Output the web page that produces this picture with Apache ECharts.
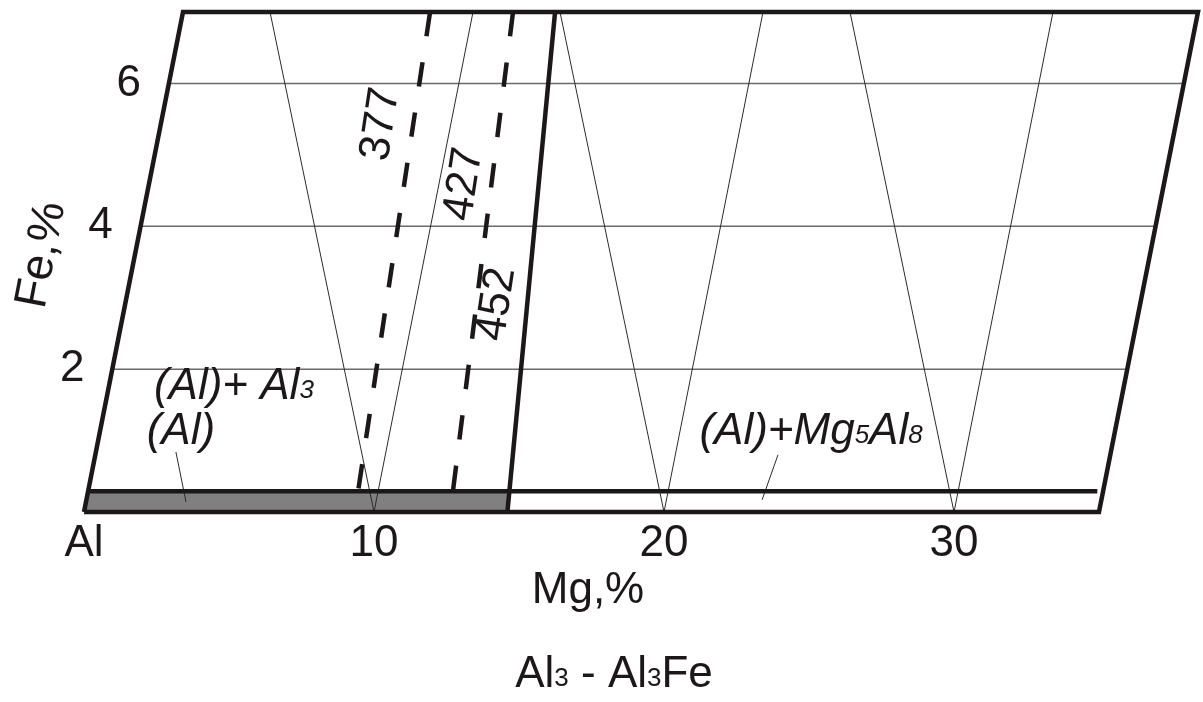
<!DOCTYPE html>
<html>
<head>
<meta charset="utf-8">
<script src="https://cdn.jsdelivr.net/npm/echarts@6/dist/echarts.min.js"></script>
<style>
    body{margin:0;background:#fff;}
    #chart{width:1203px;height:702px;}
</style>
</head>
<body>
<div id="chart"></div>
<script>
    // Mg,% along the bottom, Fe,% up the slanted side
    var mgTicks = [0, 10, 20, 30];
    var feTicks = [2, 4, 6];
    var mgMax = 35, feMax = 7;
    var skew = 0.4877; // frame leans right: Mg shift for 1% Fe

    // (Al) solid solution strip and the (Al)/(Al)+Mg5Al8 boundary
    var solvusFe = 0.29;
    var stripEndMg = 34.8;
    var boundary = [[14.6, 0], [12.83, 7]];

    // isotherms, drawn top to bottom
    var iso377 = [[8.52, 7], [9.31, 0.29]];
    var iso427 = [[11.38, 7], [12.58, 0.29]];
    var isoNames = ['377', '427', '452'];
    var isoMg = [7.59, 10.87, 12.82];
    var isoFe = [5.43, 4.59, 2.91];

    // thin section lines: from (m,0) up to (m-7,7) and to (m,7)
    var fanMg = [10, 20, 30];

    // phase fields
    var phaseText = ['{a|(Al)+ Al}{b|3}', '{a|(Al)}', '{a|(Al)+Mg}{b|5}{a|Al}{b|8}'];
    var phaseMg = [4.31, 2.79, 24.52];
    var phaseFe = [1.76, 1.13, 1.13];
    var pointerAl = [[2.76, 0.84], [3.45, 0.14]];
    var pointerMg5Al8 = [[23.54, 0.80], [23.30, 0.17]];

    var FONT = '"Liberation Sans", Arial, sans-serif';
    var INK = '#1c1718';

    function sk(p){ return [p[0] + skew * p[1], p[1]]; }
    function boundaryMgAt(fe){
        var a = boundary[0], b = boundary[1];
        return a[0] + (b[0] - a[0]) * (fe - a[1]) / (b[1] - a[1]);
    }
    function line(pts, style, z){
        return {type:'line', data: pts.map(sk), symbol:'none', clip:false, silent:true,
            lineStyle: style, z: z || 2};
    }
    function labels(data, label){
        return {type:'scatter', symbolSize:0, clip:false, silent:true, z:6,
            itemStyle:{opacity:1}, data:data, label:label};
    }

    var series = [];

    // grey (Al) strip
    var strip = [[0, 0], [boundary[0][0], 0], [boundaryMgAt(solvusFe), solvusFe], [0, solvusFe]];
    series.push({
        type:'custom', clip:false, silent:true, z:1,
        data:[[0, 0]],
        renderItem: function(params, api){
            return {type:'polygon', shape:{points: strip.map(function(p){ return api.coord(sk(p)); })},
                style:{fill:'#808080'}};
        }
    });

    // Fe grid lines
    feTicks.forEach(function(fe){
        series.push(line([[0, fe], [mgMax, fe]], {color:'#6a6a6a', width:1.5}, 2));
    });

    // thin fans
    fanMg.forEach(function(m){
        series.push(line([[m - 7, feMax], [m, 0], [m, feMax]], {color:'#2b2b2b', width:1}, 3));
    });

    // frame
    series.push(line([[0, 0], [mgMax, 0], [mgMax, feMax], [0, feMax], [0, 0]],
        {color:INK, width:4.5, join:'miter'}, 5));
    series.push(line([[0, solvusFe], [stripEndMg, solvusFe]], {color:INK, width:4.5}, 5));
    series.push(line(boundary, {color:INK, width:4.5}, 5));

    // isotherms
    series.push(line(iso377, {color:INK, width:4.5, type:[24.5, 26.3]}, 4));
    series.push(line(iso427, {color:INK, width:4.5, type:[24.5, 26.3]}, 4));

    // pointers
    series.push(line(pointerAl, {color:'#2b2b2b', width:1}, 3));
    series.push(line(pointerMg5Al8, {color:'#2b2b2b', width:1}, 3));

    // isotherm numbers
    series.push(labels(
        isoNames.map(function(n, i){ return {name:n, value: sk([isoMg[i], isoFe[i]])}; }),
        {show:true, position:'inside', rotate:81.4, formatter:'{b}',
            fontSize:44, color:INK, fontFamily:FONT}));

    // phase labels
    series.push(labels(
        phaseText.map(function(t, i){ return {value: sk([phaseMg[i], phaseFe[i]]), label:{formatter:t}}; }),
        {show:true, position:'inside',
            rich:{
                a:{fontSize:44, fontStyle:'italic', color:INK, fontFamily:FONT, verticalAlign:'bottom'},
                b:{fontSize:26, fontStyle:'italic', color:INK, fontFamily:FONT, verticalAlign:'bottom', padding:[0,0,5,0]}
            }}));

    // Fe tick labels along the slanted side
    series.push(labels(
        feTicks.map(function(fe){ return {name:String(fe), value: sk([-1.38, fe])}; }),
        {show:true, position:'inside', formatter:'{b}', fontSize:44, color:INK, fontFamily:FONT}));

    var option = {
        animation:false,
        grid:{left:84, top:12, width:29 * 38.5, height:500},
        xAxis:{type:'value', min:0, max:38.5, interval:10,
            axisLine:{show:false}, axisTick:{show:false}, splitLine:{show:false},
            axisLabel:{showMaxLabel:false, margin:10, fontSize:44, color:INK, fontFamily:FONT,
                formatter:function(v){ return mgTicks.indexOf(v) < 0 ? '' : (v === 0 ? 'Al' : String(v)); }}},
        yAxis:{type:'value', min:0, max:feMax, show:false},
        graphic:[
            {type:'text', x:588, y:591, style:{text:'Mg,%', fontSize:44, fontFamily:FONT, fill:INK,
                align:'center', verticalAlign:'middle'}},
            {type:'text', x:614, y:675, style:{text:'{a|Al}{b|3}{a| - Al}{b|3}{a|Fe}', fill:INK,
                align:'center', verticalAlign:'middle',
                rich:{a:{fontSize:44, fontFamily:FONT, fill:INK, verticalAlign:'bottom'},
                      b:{fontSize:26, fontFamily:FONT, fill:INK, verticalAlign:'bottom', padding:[0,0,5,0]}}}},
            {type:'text', x:42, y:255, rotation:79 * Math.PI / 180,
                style:{text:'Fe,%', fontSize:46, fontFamily:FONT, fill:INK, align:'center', verticalAlign:'middle'}}
        ],
        series: series
    };

    var myChart = echarts.init(document.getElementById('chart'));
    myChart.setOption(option);
</script>
</body>
</html>
